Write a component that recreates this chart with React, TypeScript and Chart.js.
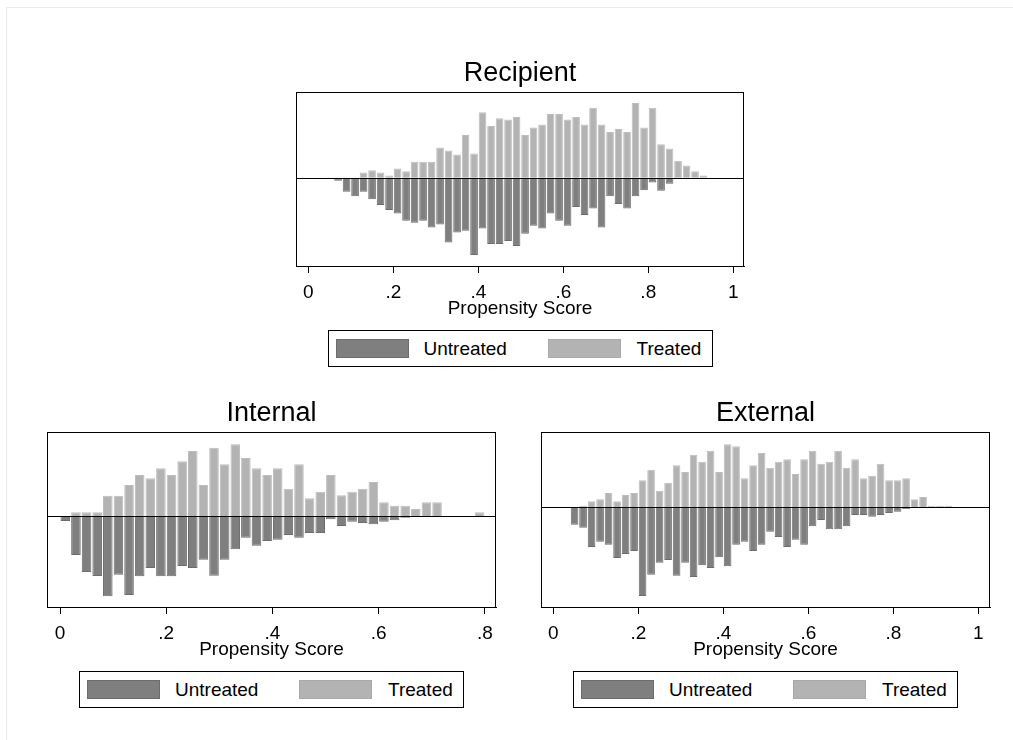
import React, { useEffect, useRef } from "react";
import { Chart, registerables } from "chart.js";

Chart.register(...registerables);

// ---------- DATA ----------
const recipientBins = [
  0.05, 0.07, 0.09, 0.11, 0.13, 0.15, 0.17, 0.19, 0.21, 0.23, 0.25, 0.27, 0.29, 0.31, 0.33,
  0.35, 0.37, 0.39, 0.41, 0.43, 0.45, 0.47, 0.49, 0.51, 0.53, 0.55, 0.57, 0.59, 0.61, 0.63,
  0.65, 0.67, 0.69, 0.71, 0.73, 0.75, 0.77, 0.79, 0.81, 0.83, 0.85, 0.87, 0.89, 0.91, 0.93,
];
const recipientTreated = [
  0, 0, 0, 0, 16, 23, 16, 7, 28, 20, 48, 48, 48, 91, 82,
  70, 129, 73, 197, 156, 179, 175, 183, 129, 151, 160, 192, 192, 175, 183,
  160, 211, 160, 138, 147, 138, 225, 151, 211, 101, 88, 51, 37, 20, 7,
];
const recipientUntreated = [
  2, 9, 42, 55, 42, 64, 82, 97, 107, 129, 135, 129, 149, 140, 194,
  164, 159, 232, 152, 199, 199, 190, 205, 168, 144, 152, 107, 129, 144, 88,
  112, 92, 149, 55, 79, 92, 55, 37, 14, 39, 18, 0, 0, 0, 0,
];

const internalBins = [
  0.01, 0.03, 0.05, 0.07, 0.09, 0.11, 0.13, 0.15, 0.17, 0.19, 0.21, 0.23, 0.25, 0.27, 0.29,
  0.31, 0.33, 0.35, 0.37, 0.39, 0.41, 0.43, 0.45, 0.47, 0.49, 0.51, 0.53, 0.55, 0.57, 0.59,
  0.61, 0.63, 0.65, 0.67, 0.69, 0.71, 0.73, 0.75, 0.77, 0.79,
];
const internalTreated = [
  0, 11, 11, 11, 61, 61, 93, 123, 113, 143, 123, 164, 195, 93, 205,
  155, 215, 174, 143, 123, 143, 82, 155, 53, 73, 123, 62, 73, 82, 102,
  41, 31, 31, 21, 41, 41, 0, 0, 0, 11,
];
const internalUntreated = [
  15, 117, 168, 180, 241, 176, 237, 181, 156, 181, 181, 150, 156, 131, 179,
  131, 100, 65, 89, 75, 71, 57, 65, 51, 51, 10, 30, 17, 21, 25,
  17, 13, 5, 1, 0, 0, 2, 0, 0, 0,
];

const externalBins = [
  0.05, 0.07, 0.09, 0.11, 0.13, 0.15, 0.17, 0.19, 0.21, 0.23, 0.25, 0.27, 0.29, 0.31, 0.33,
  0.35, 0.37, 0.39, 0.41, 0.43, 0.45, 0.47, 0.49, 0.51, 0.53, 0.55, 0.57, 0.59, 0.61, 0.63,
  0.65, 0.67, 0.69, 0.71, 0.73, 0.75, 0.77, 0.79, 0.81, 0.83, 0.85, 0.87, 0.89, 0.91, 0.93,
];
const externalTreated = [
  0, 5, 18, 24, 43, 18, 37, 43, 81, 113, 50, 74, 126, 106, 158,
  137, 170, 106, 189, 183, 87, 126, 163, 119, 137, 144, 100, 144, 170, 131,
  137, 170, 119, 144, 87, 95, 131, 81, 81, 87, 24, 31, 5, 5, 5,
];
const externalUntreated = [
  52, 61, 119, 103, 112, 152, 140, 131, 266, 202, 166, 158, 205, 166, 209,
  174, 182, 150, 177, 112, 103, 131, 112, 73, 89, 119, 97, 112, 57, 38,
  66, 66, 57, 23, 23, 28, 23, 17, 13, 5, 0, 0, 0, 0, 0,
];

const ticksToOne = [0, 0.2, 0.4, 0.6, 0.8, 1];
const tickLabelsToOne = ["0", ".2", ".4", ".6", ".8", "1"];
const ticksToEight = [0, 0.2, 0.4, 0.6, 0.8];
const tickLabelsToEight = ["0", ".2", ".4", ".6", ".8"];

const panelTitles = ["Recipient", "Internal", "External"];
const xAxisTitle = "Propensity Score";
const seriesLabels = ["Untreated", "Treated"];

// ---------- STYLE ----------
const FONT = '"Liberation Sans", Arial, Helvetica, sans-serif';
const UNTREATED_FILL = "#7f7f7f";
const UNTREATED_EDGE = "#6c6c6c";
const TREATED_FILL = "#b3b3b3";
const TREATED_EDGE = "#bdbdbd";

const framePlugin = {
  id: "stataFrame",
  afterDatasetsDraw(chart: any) {
    const { ctx, chartArea: a, scales } = chart;
    const y0 = Math.round(scales.y.getPixelForValue(0)) + 0.5;
    ctx.save();
    ctx.strokeStyle = "#000";
    ctx.lineWidth = 1;
    ctx.beginPath();
    ctx.moveTo(a.left, y0);
    ctx.lineTo(a.right, y0);
    ctx.stroke();
    ctx.strokeRect(
      Math.round(a.left) + 0.5,
      Math.round(a.top) + 0.5,
      Math.round(a.right - a.left) - 1,
      Math.round(a.bottom - a.top)
    );
    ctx.restore();
  },
};

type Area = { left: number; top: number; w: number; h: number };

type PanelProps = {
  title: string;
  bins: number[];
  treated: number[];
  untreated: number[];
  xMin: number;
  xMax: number;
  yMin: number;
  yMax: number;
  ticks: number[];
  tickLabels: string[];
  area: Area;
};

const PAD_X = 20;
const TOP_BLOCK = 42;
const X_AXIS_H = 64;

function Panel(props: PanelProps) {
  const { title, bins, treated, untreated, xMin, xMax, yMin, yMax, ticks, tickLabels, area } = props;
  const ref = useRef<HTMLCanvasElement>(null);
  const cw = area.w + PAD_X * 2;
  const ch = TOP_BLOCK + area.h + X_AXIS_H;

  useEffect(() => {
    const chart = new Chart(ref.current as HTMLCanvasElement, {
      type: "bar",
      data: {
        datasets: [
          {
            label: seriesLabels[1],
            data: bins.map((b, i) => ({ x: b, y: treated[i] })),
            backgroundColor: TREATED_FILL,
            borderColor: TREATED_EDGE,
            borderWidth: 1,
            categoryPercentage: 1,
            barPercentage: 0.9,
          },
          {
            label: seriesLabels[0],
            data: bins.map((b, i) => ({ x: b, y: -untreated[i] })),
            backgroundColor: UNTREATED_FILL,
            borderColor: UNTREATED_EDGE,
            borderWidth: 1,
            categoryPercentage: 1,
            barPercentage: 0.9,
          },
        ],
      } as any,
      options: {
        responsive: false,
        animation: false,
        devicePixelRatio: 1,
        layout: { padding: { left: PAD_X, right: PAD_X, top: 7, bottom: 0 } },
        plugins: {
          legend: { display: false },
          tooltip: { enabled: false },
          title: {
            display: true,
            text: title,
            color: "#000",
            font: { family: FONT, size: 27, weight: "normal" },
            padding: { top: 0, bottom: 2.6 },
          },
        },
        scales: {
          x: {
            type: "linear",
            min: xMin,
            max: xMax,
            stacked: true,
            offset: false,
            grid: {
              display: true,
              offset: false,
              drawOnChartArea: false,
              drawTicks: true,
              tickLength: 7,
              color: "#000",
              lineWidth: 1,
            },
            border: { display: true, color: "#000" },
            ticks: {
              color: "#000",
              font: { family: FONT, size: 19 },
              padding: 8,
              autoSkip: false,
              maxRotation: 0,
              minRotation: 0,
              callback: (v: any) => {
                const i = ticks.indexOf(Number(v));
                return i >= 0 ? tickLabels[i] : "";
              },
            },
            afterBuildTicks: (axis: any) => {
              axis.ticks = ticks.map((v) => ({ value: v }));
            },
            afterFit: (s: any) => {
              s.height = X_AXIS_H;
            },
            title: {
              display: true,
              text: xAxisTitle,
              color: "#000",
              font: { family: FONT, size: 19 },
              padding: { top: 0, bottom: 10 },
            },
          },
          y: {
            display: false,
            stacked: true,
            min: yMin,
            max: yMax,
          },
        },
      } as any,
      plugins: [framePlugin],
    });
    return () => chart.destroy();
  }, []);

  const legendW = 385;
  const legendLeft = area.left + area.w / 2 - legendW / 2;
  const legendTop = area.top + area.h + X_AXIS_H;
  const legendItems = [
    { label: seriesLabels[0], fill: UNTREATED_FILL, edge: UNTREATED_EDGE, sw: 8, tx: 96 },
    { label: seriesLabels[1], fill: TREATED_FILL, edge: "#a9a9a9", sw: 220, tx: 309 },
  ];

  return (
    <>
      <canvas
        ref={ref}
        width={cw}
        height={ch}
        style={{
          position: "absolute",
          left: area.left - PAD_X,
          top: area.top - TOP_BLOCK,
          width: cw,
          height: ch,
        }}
      />
      <div
        style={{
          position: "absolute",
          left: legendLeft,
          top: legendTop,
          width: legendW,
          height: 37,
          border: "1px solid #000",
          boxSizing: "border-box",
          fontFamily: FONT,
          fontSize: 19,
          color: "#000",
          background: "#fff",
        }}
      >
        {legendItems.map((it) => (
          <React.Fragment key={it.label}>
            <div
              style={{
                position: "absolute",
                left: it.sw - 1,
                top: 8,
                width: 73,
                height: 19,
                background: it.fill,
                border: `1px solid ${it.edge}`,
                boxSizing: "border-box",
              }}
            />
            <span
              style={{
                position: "absolute",
                left: it.tx - 1,
                top: 0,
                lineHeight: "35px",
                whiteSpace: "nowrap",
              }}
            >
              {it.label}
            </span>
          </React.Fragment>
        ))}
      </div>
    </>
  );
}

export default function App() {
  return (
    <div
      style={{
        position: "absolute",
        left: 0,
        top: 0,
        width: 1013,
        height: 740,
        overflow: "hidden",
        background: "#fff",
      }}
    >
      <div
        style={{
          position: "absolute",
          left: 6,
          top: 7,
          width: 1020,
          height: 745,
          border: "1px solid #e6ecef",
        }}
      />
      <Panel
        title={panelTitles[0]}
        bins={recipientBins}
        treated={recipientTreated}
        untreated={recipientUntreated}
        xMin={-0.029}
        xMax={1.0252}
        yMin={-265}
        yMax={258}
        ticks={ticksToOne}
        tickLabels={tickLabelsToOne}
        area={{ left: 296, top: 92, w: 448, h: 174 }}
      />
      <Panel
        title={panelTitles[1]}
        bins={internalBins}
        treated={internalTreated}
        untreated={internalUntreated}
        xMin={-0.0245}
        xMax={0.821}
        yMin={-273}
        yMax={252}
        ticks={ticksToEight}
        tickLabels={tickLabelsToEight}
        area={{ left: 47, top: 432, w: 449, h: 175 }}
      />
      <Panel
        title={panelTitles[2]}
        bins={externalBins}
        treated={externalTreated}
        untreated={externalUntreated}
        xMin={-0.029}
        xMax={1.0275}
        yMin={-299}
        yMax={226}
        ticks={ticksToOne}
        tickLabels={tickLabelsToOne}
        area={{ left: 541, top: 432, w: 449, h: 175 }}
      />
    </div>
  );
}
